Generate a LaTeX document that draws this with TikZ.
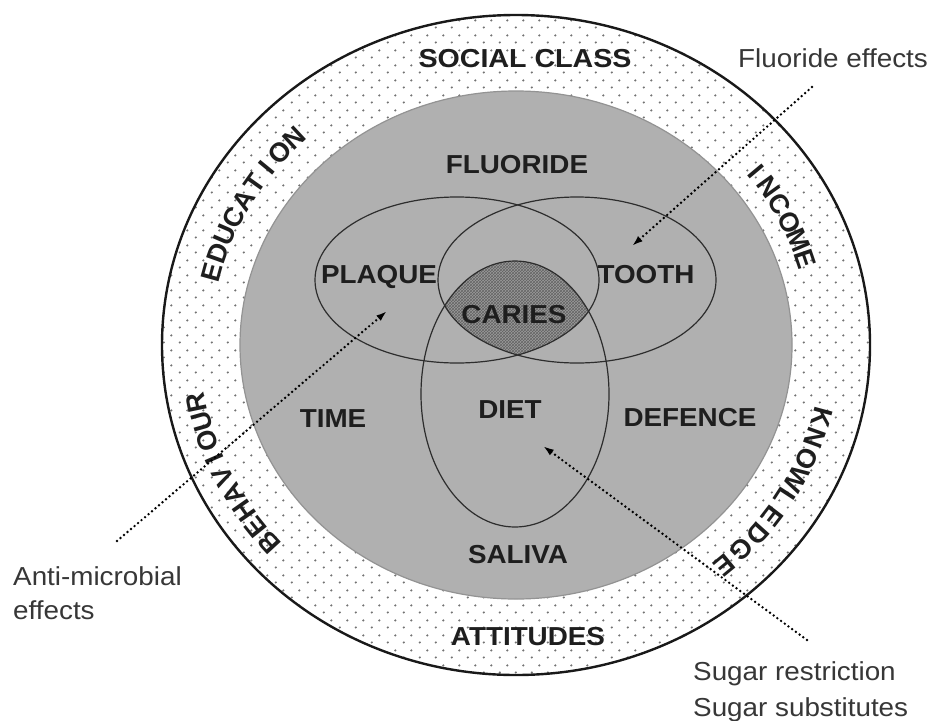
\documentclass[tikz,border=0pt]{standalone}
\usepackage{fontspec}
\setmainfont{Liberation Sans}
\usetikzlibrary{arrows.meta,patterns}
\pgfdeclarepatternformonly{ringdots}{\pgfqpoint{0pt}{0pt}}{\pgfqpoint{16pt}{15pt}}{\pgfqpoint{16pt}{15pt}}{%
  \pgfpathcircle{\pgfqpoint{4pt}{3.75pt}}{1.3pt}%
  \pgfpathcircle{\pgfqpoint{12pt}{11.25pt}}{1.3pt}%
  \pgfusepath{fill}}
\definecolor{ringdot}{RGB}{115,115,115}
\definecolor{discgray}{RGB}{176,176,176}
\definecolor{cariesfill}{RGB}{155,155,155}
\definecolor{carieshatch}{RGB}{100,100,100}
\definecolor{venn}{RGB}{45,45,45}
\definecolor{txt}{RGB}{30,30,30}
\definecolor{notetxt}{RGB}{55,55,55}
\newcommand{\labfont}{\bfseries\fontsize{26}{30}\selectfont}
\newcommand{\ringfont}{\bfseries\fontsize{27}{30}\selectfont}
\newcommand{\notefont}{\fontsize{26}{30}\selectfont}
\newcommand{\hs}[1]{\scalebox{1.07}[1]{#1}}
\begin{document}
\begin{tikzpicture}[x=1pt,y=-1pt,
  lab/.style={font=\labfont, text=txt, inner sep=0pt, anchor=base},
  note/.style={font=\notefont, text=notetxt, inner sep=0pt, anchor=base west},
  ringl/.style={font=\ringfont, text=txt, inner sep=0pt, anchor=center},
  vennline/.style={draw=venn, line width=1.2pt},
  effect/.style={draw=black, line width=2.7pt, line cap=round, dash pattern=on 0pt off 4.6pt, -{Latex[length=11pt,width=7pt]}}]
\useasboundingbox (0,0) rectangle (933,720);
\fill[white] (0,0) rectangle (933,720);
\coordinate (C) at (516,345);
% outer dotted ring
\fill[pattern=ringdots, pattern color=ringdot] (C) ellipse [x radius=354, y radius=330];
% inner grey disc
\fill[discgray] (C) ellipse [x radius=276, y radius=254];
\draw[gray!85, line width=1.2pt] (C) ellipse [x radius=276, y radius=254];
\draw[black!90, line width=2.4pt] (C) ellipse [x radius=354, y radius=330];
% caries region
\begin{scope}
  \clip (457,280) ellipse [x radius=142, y radius=83];
  \clip (577,280) ellipse [x radius=139, y radius=83];
  \fill[cariesfill] (515,394) ellipse [x radius=94, y radius=133];
  \fill[pattern=crosshatch, pattern color=carieshatch] (515,394) ellipse [x radius=94, y radius=133];
\end{scope}
% venn ellipses
\draw[vennline] (457,280) ellipse [x radius=142, y radius=83];
\draw[vennline] (577,280) ellipse [x radius=139, y radius=83];
\draw[vennline] (515,394) ellipse [x radius=94, y radius=133];
% inner labels
\node[lab] (socialclass) at (525,67) {\scalebox{1.1}[1]{SOCIAL CLASS}};
\node[lab] (attitudes) at (528,645) {\hs{ATTITUDES}};
\node[lab] (fluoride) at (517,173) {\hs{FLUORIDE}};
\node[lab] (plaque) at (379,283) {\hs{PLAQUE}};
\node[lab] (tooth) at (646,283) {\hs{TOOTH}};
\node[lab] (caries) at (514,323) {\hs{CARIES}};
\node[lab] (time) at (333,427) {\hs{TIME}};
\node[lab] (diet) at (510,418) {\hs{DIET}};
\node[lab] (defence) at (690,426) {\hs{DEFENCE}};
\node[lab] (saliva) at (518,563) {\hs{SALIVA}};
% curved ring words
\foreach \ch [count=\i from 0] in {E,D,U,C,A,T,I,O,N}{
  \pgfmathsetmacro{\t}{194.4+3.84*\i}
  \node[ringl, rotate={atan2(-330*cos(\t),-354*sin(\t))}] (edu\i) at ({516+0.886*354*cos(\t)},{345+0.886*330*sin(\t)}) {\ch};
}
\foreach \ch [count=\i from 0] in {I,N,C,O,M,E}{
  \pgfmathsetmacro{\t}{-37.9+4.06*\i}
  \node[ringl, rotate={atan2(-330*cos(\t),-354*sin(\t))}] (inc\i) at ({516+0.858*354*cos(\t)},{345+0.858*330*sin(\t)}) {\ch};
}
\foreach \ch [count=\i from 0] in {K,N,O,W,L,E,D,G,E}{
  \pgfmathsetmacro{\t}{14.2+4.29*\i}
  \node[ringl, rotate={atan2(-330*cos(\t),-354*sin(\t))}] (kno\i) at ({516+0.89*354*cos(\t)},{345+0.89*330*sin(\t)}) {\ch};
}
\foreach \ch [count=\i from 0] in {B,E,H,A,V,I,O,U,R}{
  \pgfmathsetmacro{\t}{139.4+3.71*\i}
  \node[ringl, rotate={atan2(-330*cos(\t),-354*sin(\t))}] (beh\i) at ({516+0.918*354*cos(\t)},{345+0.918*330*sin(\t)}) {\ch};
}
% notes
\node[note] (fe) at (738,67) {\hs{Fluoride effects}};
\node[note] (am1) at (13,585) {\hs{Anti-microbial}};
\node[note] (am2) at (13,619) {\hs{effects}};
\node[note] (sr1) at (693,680) {\hs{Sugar restriction}};
\node[note] (sr2) at (693,716) {\hs{Sugar substitutes}};
% effect arrows
\coordinate (feS) at (812,87);
\coordinate (feT) at (632,246);
\coordinate (amS) at (117,541);
\coordinate (amT) at (387,311);
\coordinate (srS) at (807,640);
\coordinate (srT) at (543,446);
\draw[effect] (feS) -- (feT);
\draw[effect] (amS) -- (amT);
\draw[effect] (srS) -- (srT);
\end{tikzpicture}
\end{document}
